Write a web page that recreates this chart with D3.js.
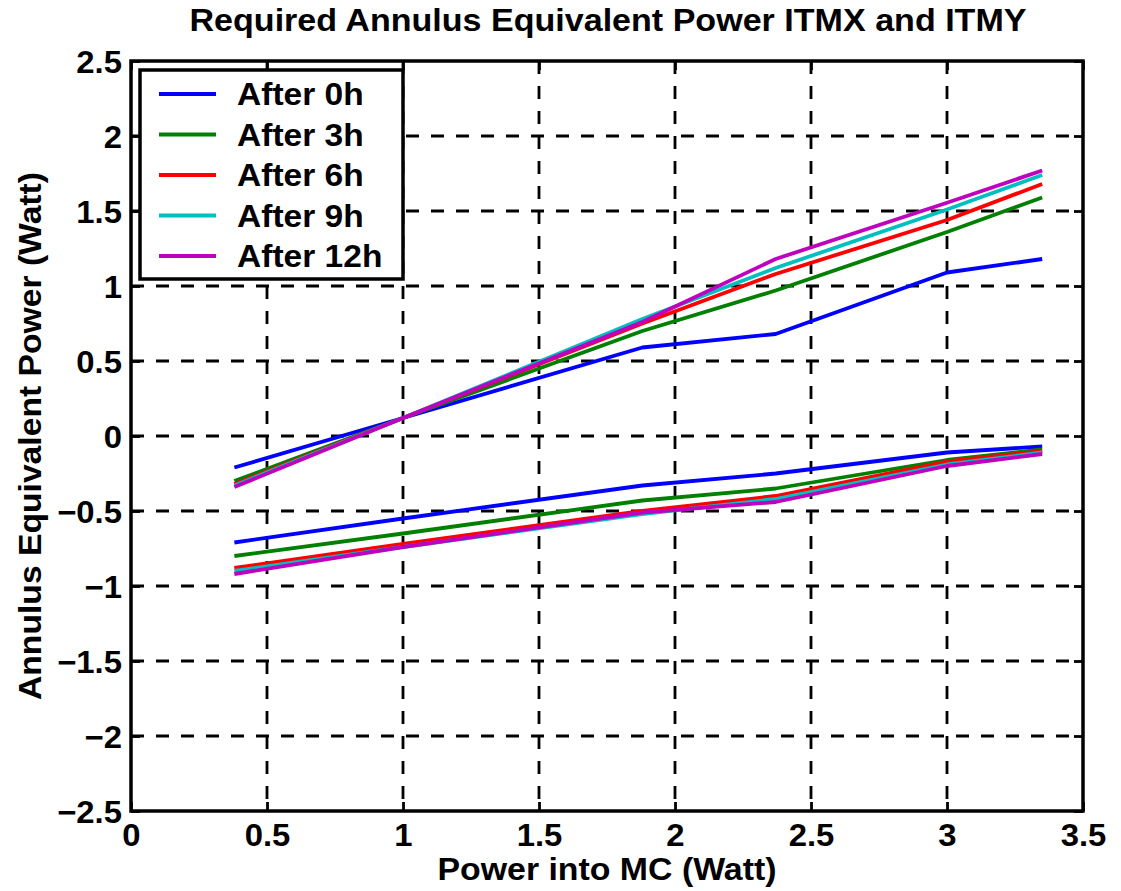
<!DOCTYPE html>
<html lang="en">
<head>
<meta charset="UTF-8">
<title>Required Annulus Equivalent Power ITMX and ITMY</title>
<style>
    body { margin: 0; background: #fff; }
    text { font-family: "Liberation Sans", Arial, sans-serif; font-weight: bold; fill: #000; }
</style>
</head>
<body>
<svg id="chart" width="1121" height="891"></svg>
<script src="https://d3js.org/d3.v7.min.js"></script>
<script>

// power into MC (Watt)
var power = [0.38, 1.0, 1.88, 2.37, 3.0, 3.35];

// legend labels and line colours
var labels = ["After 0h", "After 3h", "After 6h", "After 9h", "After 12h"];
var colors = ["#0000ff", "#008000", "#ff0000", "#00bfbf", "#bf00bf"];

// upper group of curves
var upper0h  = [-0.21, 0.12, 0.59, 0.68, 1.09, 1.18];
var upper3h  = [-0.30, 0.12, 0.70, 0.97, 1.36, 1.59];
var upper6h  = [-0.32, 0.12, 0.75, 1.08, 1.44, 1.68];
var upper9h  = [-0.33, 0.12, 0.78, 1.12, 1.51, 1.74];
var upper12h = [-0.34, 0.12, 0.76, 1.18, 1.555, 1.77];

// lower group of curves
var lower0h  = [-0.71, -0.55, -0.33, -0.25, -0.11, -0.07];
var lower3h  = [-0.80, -0.65, -0.43, -0.35, -0.16, -0.09];
var lower6h  = [-0.88, -0.72, -0.50, -0.40, -0.17, -0.10];
var lower9h  = [-0.90, -0.74, -0.52, -0.42, -0.19, -0.11];
var lower12h = [-0.92, -0.74, -0.51, -0.44, -0.20, -0.12];

// tick values
var xTicks = [0, 0.5, 1, 1.5, 2, 2.5, 3, 3.5];
var yTicks = [-2.5, -2, -1.5, -1, -0.5, 0, 0.5, 1, 1.5, 2, 2.5];

var upper = [upper0h, upper3h, upper6h, upper9h, upper12h];
var lower = [lower0h, lower3h, lower6h, lower9h, lower12h];

var svg = d3.select("#chart");
var pLeft = 131, pRight = 1083, pTop = 61, pBottom = 811;

var x = d3.scaleLinear().domain([0, 3.5]).range([pLeft, pRight]);
var y = d3.scaleLinear().domain([-2.5, 2.5]).range([pBottom, pTop]);

var fmt = function(d) { return d === 0 ? "0" : d3.format("~g")(d); };

// widen glyphs a little, the original font runs wider than Liberation
function stretch(sel, k) {
    sel.each(function() {
        var t = d3.select(this);
        t.attr("textLength", this.getComputedTextLength() * k)
         .attr("lengthAdjust", "spacingAndGlyphs");
    });
}

// dashed grid
var grid = svg.append("g");
grid.selectAll("line.gx")
    .data(xTicks.slice(1, -1))
    .join("line")
    .attr("class", "gx")
    .attr("x1", d => x(d)).attr("x2", d => x(d))
    .attr("y1", pTop).attr("y2", pBottom);
grid.selectAll("line.gy")
    .data(yTicks.slice(1, -1))
    .join("line")
    .attr("class", "gy")
    .attr("y1", d => y(d)).attr("y2", d => y(d))
    .attr("x1", pLeft).attr("x2", pRight);
grid.selectAll("line")
    .attr("stroke", "#000")
    .attr("stroke-width", 2.8)
    .attr("stroke-dasharray", "13,12");

// axes, ticks pointing inward
function styleAxis(g) {
    g.select(".domain").remove();
    g.selectAll(".tick line").attr("stroke", "#000").attr("stroke-width", 2.8);
    g.selectAll(".tick text").style("font-size", "31px");
}

var xAxis = svg.append("g")
    .attr("transform", "translate(0," + pBottom + ")")
    .call(d3.axisBottom(x).tickValues(xTicks).tickFormat(fmt).tickSizeInner(-9).tickSizeOuter(0))
    .call(styleAxis);
xAxis.selectAll(".tick text").attr("y", 13).attr("dy", "0.71em").call(stretch, 1.06);

svg.append("g")
    .attr("transform", "translate(0," + pTop + ")")
    .call(d3.axisTop(x).tickValues(xTicks).tickFormat("").tickSizeInner(-9).tickSizeOuter(0))
    .call(styleAxis);

var yAxis = svg.append("g")
    .attr("transform", "translate(" + pLeft + ",0)")
    .call(d3.axisLeft(y).tickValues(yTicks).tickFormat(fmt).tickSizeInner(-9).tickSizeOuter(0))
    .call(styleAxis);
yAxis.selectAll(".tick text").attr("x", -9).attr("dy", "0.36em").call(stretch, 1.06);

svg.append("g")
    .attr("transform", "translate(" + pRight + ",0)")
    .call(d3.axisRight(y).tickValues(yTicks).tickFormat("").tickSizeInner(-9).tickSizeOuter(0))
    .call(styleAxis);

// data curves
var line = d3.line()
    .x((d, i) => x(power[i]))
    .y(d => y(d));

[upper, lower].forEach(function(group) {
    group.forEach(function(s, k) {
        svg.append("path")
            .attr("d", line(s))
            .attr("fill", "none")
            .attr("stroke", colors[k])
            .attr("stroke-width", 3.8)
            .attr("stroke-linejoin", "round");
    });
});

// plot frame
svg.append("rect")
    .attr("x", pLeft).attr("y", pTop)
    .attr("width", pRight - pLeft).attr("height", pBottom - pTop)
    .attr("fill", "none")
    .attr("stroke", "#000")
    .attr("stroke-width", 3.5);

// legend
var legend = svg.append("g");
legend.append("rect")
    .attr("x", 140).attr("y", 70)
    .attr("width", 263).attr("height", 209)
    .attr("fill", "#fff")
    .attr("stroke", "#000")
    .attr("stroke-width", 3.5);

labels.forEach(function(lab, k) {
    var cy = 94 + k * 40.5;
    legend.append("line")
        .attr("x1", 159).attr("x2", 216)
        .attr("y1", cy).attr("y2", cy)
        .attr("stroke", colors[k])
        .attr("stroke-width", 3.8);
    legend.append("text")
        .attr("x", 237).attr("y", cy + 11)
        .style("font-size", "30.5px")
        .text(lab)
        .call(stretch, 1.1);
});

// title and axis labels
svg.append("text")
    .attr("x", 608).attr("y", 31)
    .attr("text-anchor", "middle")
    .style("font-size", "30.5px")
    .attr("textLength", 837)
    .attr("lengthAdjust", "spacingAndGlyphs")
    .text("Required Annulus Equivalent Power ITMX and ITMY");

svg.append("text")
    .attr("x", 607).attr("y", 880)
    .attr("text-anchor", "middle")
    .style("font-size", "30.5px")
    .attr("textLength", 339)
    .attr("lengthAdjust", "spacingAndGlyphs")
    .text("Power into MC (Watt)");

svg.append("text")
    .attr("transform", "translate(41,436) rotate(-90)")
    .attr("text-anchor", "middle")
    .style("font-size", "30.5px")
    .attr("textLength", 528)
    .attr("lengthAdjust", "spacingAndGlyphs")
    .text("Annulus Equivalent Power (Watt)");

</script>
</body>
</html>
